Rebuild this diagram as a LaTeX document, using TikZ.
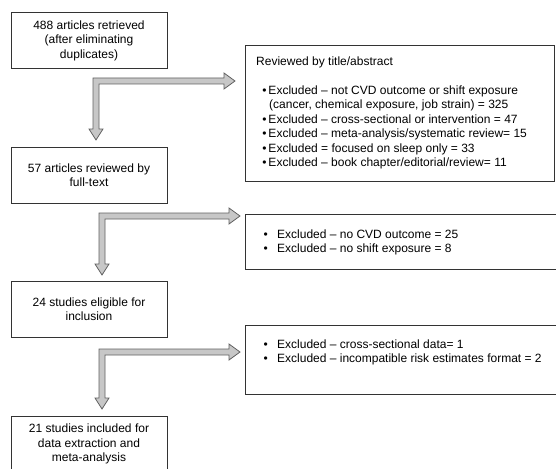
\documentclass[tikz,border=0pt]{standalone}
\usepackage{fontspec}
\setmainfont{Liberation Sans}
\usetikzlibrary{calc}
\newcommand{\bul}{\hspace*{6pt}\makebox[4.5pt][c]{•}\hspace*{1.8pt}}
\newcommand{\cont}{\hspace*{13pt}}
\newcommand{\bulb}{\makebox[5pt][c]{•}\hspace*{9pt}}
% bent double-outline arrow: corner x, corner y, right tip x, down tip y
\newcommand{\flowarrow}[4]{%
  \draw[farrow] (#1-3,#2-3) -- (#3-11,#2-3) -- (#3-11,#2-8) -- (#3,#2)
    -- (#3-11,#2+8) -- (#3-11,#2+3) -- (#1+3,#2+3) -- (#1+3,#4-11)
    -- (#1+7,#4-11) -- (#1,#4) -- (#1-7,#4-11) -- (#1-3,#4-11) -- cycle;}
\begin{document}
\begin{tikzpicture}[x=1pt,y=-1pt,
  font=\fontsize{12}{14.5}\selectfont,
  lbox/.style={draw=black!80, line width=0.9pt, minimum width=156pt,
    minimum height=56pt, align=center, inner sep=0pt},
  rbox/.style={draw=black!80, line width=0.9pt, inner sep=0pt, anchor=north west},
  txt/.style={align=left, inner sep=0pt, anchor=north west},
  farrow/.style={fill=black!22, draw=black!62, line width=0.8pt, line join=miter}]
\useasboundingbox (0,0) rectangle (556,468);

% left column
\node[lbox] (b1) at (89,40.5) {488 articles retrieved\\(after eliminating\\duplicates)};
\node[lbox] (b2) at (89,175) {57 articles reviewed by\\full-text};
\node[lbox] (b3) at (89,309) {24 studies eligible for\\inclusion};
\node[lbox] (b4) at (89,444) {21 studies included for\\data extraction and\\meta-analysis};

% right column
\node[rbox, minimum width=309pt, minimum height=136pt] (r1) at (245,45) {};
\node[txt] (t1) at (256,56.3) {Reviewed by title/abstract\\
\mbox{}\\
\bul Excluded – not CVD outcome or shift exposure\\
\cont(cancer, chemical exposure, job strain) = 325\\
\bul Excluded – cross-sectional or intervention = 47\\
\bul Excluded – meta-analysis/systematic review= 15\\
\bul Excluded = focused on sleep only = 33\\
\bul Excluded – book chapter/editorial/review= 11};

\node[rbox, minimum width=330pt, minimum height=55pt] (r2) at (245,214) {};
\node[txt] (t2) at (263,229.3) {\bulb Excluded – no CVD outcome = 25\\
\bulb Excluded – no shift exposure = 8};

\node[rbox, minimum width=330pt, minimum height=69pt] (r3) at (245,325) {};
\node[txt] (t3) at (263,339.3) {\bulb Excluded – cross-sectional data= 1\\
\bulb Excluded – incompatible risk estimates format = 2};

% arrows
\flowarrow{96}{81}{235}{140}
\flowarrow{102}{216}{240}{275}
\flowarrow{102}{352}{240}{409}
\end{tikzpicture}
\end{document}
